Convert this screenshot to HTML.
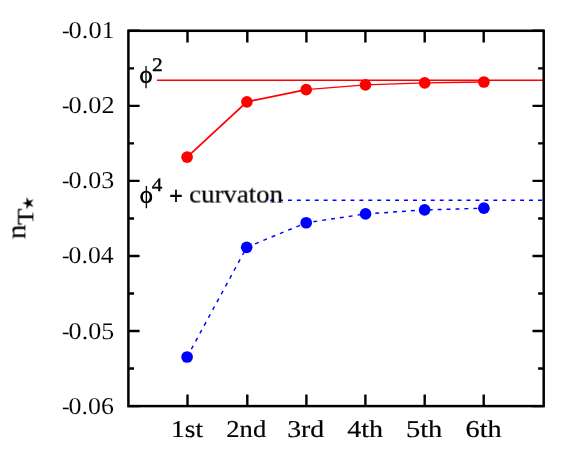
<!DOCTYPE html>
<html><head><meta charset="utf-8"><title>chart</title>
<style>html,body{margin:0;padding:0;background:#fff;}svg{display:block;}text{font-family:"Liberation Serif",serif;fill:#000;}</style>
</head><body>
<svg width="581" height="453" viewBox="0 0 581 453">
<rect x="0" y="0" width="581" height="453" fill="#fff"/>
<path d="M156.9 80.15 H543.7" stroke="#f00" stroke-width="1.5" fill="none"/>
<path d="M187.1 157.05 L246.9 101.8 L306.2 89.7" stroke="#f00" stroke-width="1.7" fill="none"/>
<path d="M306.2 89.7 L365.45 84.9 L424.7 82.9 L483.9 82.0" stroke="#f00" stroke-width="1.3" fill="none"/>
<path d="M270.1 200.15 H543.7" stroke="#00f" stroke-width="1.45" fill="none" stroke-dasharray="3.9 5.03"/>
<path d="M187.1 357.0 L246.7 247.3 L306.2 222.75 L365.55 213.95 L424.6 209.9 L483.9 208.2" stroke="#00f" stroke-width="1.45" fill="none" stroke-dasharray="3.9 5.03"/>
<circle cx="187.1" cy="157.05" r="5.85" fill="#f00"/>
<circle cx="246.9" cy="101.8" r="5.85" fill="#f00"/>
<circle cx="306.2" cy="89.7" r="5.85" fill="#f00"/>
<circle cx="365.45" cy="84.9" r="5.85" fill="#f00"/>
<circle cx="424.7" cy="82.9" r="5.85" fill="#f00"/>
<circle cx="483.9" cy="82.0" r="5.85" fill="#f00"/>
<circle cx="187.1" cy="357.0" r="5.85" fill="#00f"/>
<circle cx="246.7" cy="247.3" r="5.85" fill="#00f"/>
<circle cx="306.2" cy="222.75" r="5.85" fill="#00f"/>
<circle cx="365.55" cy="213.95" r="5.85" fill="#00f"/>
<circle cx="424.6" cy="209.9" r="5.85" fill="#00f"/>
<circle cx="483.9" cy="208.2" r="5.85" fill="#00f"/>
<rect x="128.4" y="30.8" width="415.30" height="375.30" fill="none" stroke="#000" stroke-width="2.5"/>
<path d="M187.50 406.1 v-11.6 M187.50 30.8 v11.6 M247.30 406.1 v-11.6 M247.30 30.8 v11.6 M306.40 406.1 v-11.6 M306.40 30.8 v11.6 M365.40 406.1 v-11.6 M365.40 30.8 v11.6 M424.70 406.1 v-11.6 M424.70 30.8 v11.6 M483.70 406.1 v-11.6 M483.70 30.8 v11.6 M128.4 30.80 h11.2 M543.7 30.80 h-11.2 M128.4 68.33 h5.6 M543.7 68.33 h-5.6 M128.4 105.86 h11.2 M543.7 105.86 h-11.2 M128.4 143.39 h5.6 M543.7 143.39 h-5.6 M128.4 180.92 h11.2 M543.7 180.92 h-11.2 M128.4 218.45 h5.6 M543.7 218.45 h-5.6 M128.4 255.98 h11.2 M543.7 255.98 h-11.2 M128.4 293.51 h5.6 M543.7 293.51 h-5.6 M128.4 331.04 h11.2 M543.7 331.04 h-11.2 M128.4 368.57 h5.6 M543.7 368.57 h-5.6 M128.4 406.10 h11.2 M543.7 406.10 h-11.2" stroke="#000" stroke-width="2.4" fill="none"/>
<g opacity="0.999">
<text transform="translate(62.06 38.30) skewX(0.06) scale(0.9385 1)" font-size="24.2" stroke="#fff" stroke-width="0.1">-</text>
<text transform="translate(68.59 38.30) skewX(0.06) scale(1.0907 1)" font-size="24.2" stroke="#fff" stroke-width="0.1">0.01</text>
<text transform="translate(62.06 113.36) skewX(0.06) scale(0.9385 1)" font-size="24.2" stroke="#fff" stroke-width="0.1">-</text>
<text transform="translate(68.60 113.36) skewX(0.06) scale(1.0875 1)" font-size="24.2" stroke="#fff" stroke-width="0.1">0.02</text>
<text transform="translate(62.06 188.42) skewX(0.06) scale(0.9385 1)" font-size="24.2" stroke="#fff" stroke-width="0.1">-</text>
<text transform="translate(68.61 188.42) skewX(0.06) scale(1.0770 1)" font-size="24.2" stroke="#fff" stroke-width="0.1">0.03</text>
<text transform="translate(62.06 263.48) skewX(0.06) scale(0.9385 1)" font-size="24.2" stroke="#fff" stroke-width="0.1">-</text>
<text transform="translate(68.62 263.48) skewX(0.06) scale(1.0621 1)" font-size="24.2" stroke="#fff" stroke-width="0.1">0.04</text>
<text transform="translate(62.06 338.54) skewX(0.06) scale(0.9385 1)" font-size="24.2" stroke="#fff" stroke-width="0.1">-</text>
<text transform="translate(68.61 338.54) skewX(0.06) scale(1.0770 1)" font-size="24.2" stroke="#fff" stroke-width="0.1">0.05</text>
<text transform="translate(62.06 413.60) skewX(0.06) scale(0.9385 1)" font-size="24.2" stroke="#fff" stroke-width="0.1">-</text>
<text transform="translate(68.61 413.60) skewX(0.06) scale(1.0711 1)" font-size="24.2" stroke="#fff" stroke-width="0.1">0.06</text>
<text transform="translate(171.09 436.60) skewX(0.06) scale(1.1320 1)" font-size="24.2" stroke="#000" stroke-width="0.2">1st</text>
<text transform="translate(226.33 436.60) skewX(0.06) scale(1.0990 1)" font-size="24.2" stroke="#000" stroke-width="0.2">2nd</text>
<text transform="translate(287.17 436.60) skewX(0.06) scale(1.1492 1)" font-size="24.2" stroke="#000" stroke-width="0.2">3rd</text>
<text transform="translate(347.25 436.60) skewX(0.06) scale(1.1616 1)" font-size="24.2" stroke="#000" stroke-width="0.2">4th</text>
<text transform="translate(405.94 436.60) skewX(0.06) scale(1.1781 1)" font-size="24.2" stroke="#000" stroke-width="0.2">5th</text>
<text transform="translate(465.48 436.60) skewX(0.06) scale(1.1703 1)" font-size="24.2" stroke="#000" stroke-width="0.2">6th</text>
<text transform="translate(139.56 82.60) skewX(0.06) scale(1.0159 1)" font-size="24.5" fill="#777">ϕ</text>
<path d="M140.20 76.50 A5.8 5.95 0 1 0 151.80 76.50 A5.8 5.95 0 1 0 140.20 76.50Z M142.45 76.50 A3.55 5.0 0 1 0 149.55 76.50 A3.55 5.0 0 1 0 142.45 76.50Z" fill="#000" fill-rule="evenodd"/>
<text transform="translate(152.06 70.90) skewX(0.06) scale(1.1173 1)" font-size="19.2" stroke="#000" stroke-width="0.4">2</text>
<text transform="translate(139.65 202.80) skewX(0.06) scale(1.0338 1)" font-size="24.5" fill="#777">ϕ</text>
<path d="M140.40 196.80 A5.8 5.95 0 1 0 152.00 196.80 A5.8 5.95 0 1 0 140.40 196.80Z M142.65 196.80 A3.55 5.0 0 1 0 149.75 196.80 A3.55 5.0 0 1 0 142.65 196.80Z" fill="#000" fill-rule="evenodd"/>
<text transform="translate(151.79 191.00) skewX(0.06) scale(1.0980 1)" font-size="19.2" stroke="#000" stroke-width="0.4">4</text>
<text transform="translate(169.45 204.20) skewX(0.06) scale(0.9385 1)" font-size="24.5" stroke="#000" stroke-width="0.8">+</text>
<text transform="translate(189.28 202.60) skewX(0.06) scale(1.0947 1)" font-size="24.5" stroke="#000" stroke-width="0.2">curvaton</text>
<g transform="translate(25.4 238.3) rotate(-90)">
<text transform="translate(-0.66 0.00) skewX(0.06) scale(1.0508 1)" font-size="27.4" stroke="#000" stroke-width="0.2">n</text>
<text transform="translate(13.21 7.90) skewX(0.06) scale(1.1496 1)" font-size="23.4" stroke="#000" stroke-width="0.2">T</text>
<path d="M35.10 -3.30 L36.39 1.32 L41.19 1.12 L37.19 3.78 L38.86 8.28 L35.10 5.30 L31.34 8.28 L33.01 3.78 L29.01 1.12 L33.81 1.32Z" fill="#000"/>
</g>
</g>
</svg></body></html>
